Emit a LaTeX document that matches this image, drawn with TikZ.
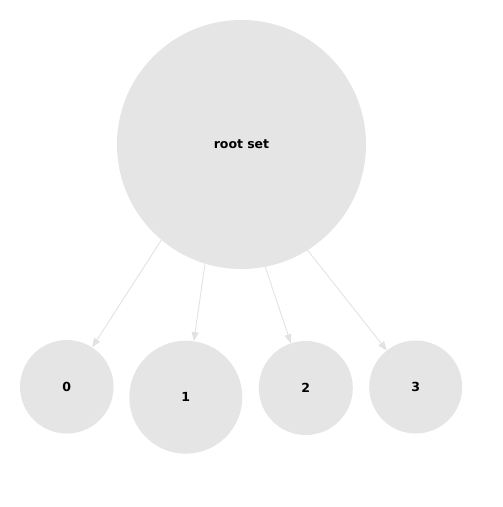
\documentclass[tikz,border=0pt]{standalone}
\usepackage{fontspec}
\setmainfont{DejaVu Sans}
\usepackage{tikz}
\usetikzlibrary{arrows.meta, positioning}
\definecolor{setgray}{RGB}{229, 229, 229}
\definecolor{edgegray}{RGB}{226, 226, 226}

\begin{document}
\begin{tikzpicture}[x=1pt, y=-1pt,
    setnode/.style={circle, fill=setgray, inner sep=0pt, font=\fontsize{12.5}{14}\selectfont\bfseries},
    setedge/.style={draw=edgegray, line width=0.9pt, -{Triangle[length=9pt, width=7pt, fill=edgegray]}}]
  \useasboundingbox (0, 0) rectangle (503, 507);

  \node[setnode, minimum size=249pt] (root) at (241.5, 144.5) {root\,\,set};

  \node[setnode, minimum size=93.5pt] (s0) at (66.8, 386.8) {0};
  \node[setnode, minimum size=113pt] (s1) at (185.8, 397.2) {1};
  \node[setnode, minimum size=94pt] (s2) at (305.8, 388) {2};
  \node[setnode, minimum size=93pt] (s3) at (415.7, 387) {3};

  \draw[setedge] (root.230) -- (s0);
  \draw[setedge] (root.253) -- (s1);
  \draw[setedge] (root.281) -- (s2);
  \draw[setedge] (root.302) -- (s3);
\end{tikzpicture}
\end{document}
